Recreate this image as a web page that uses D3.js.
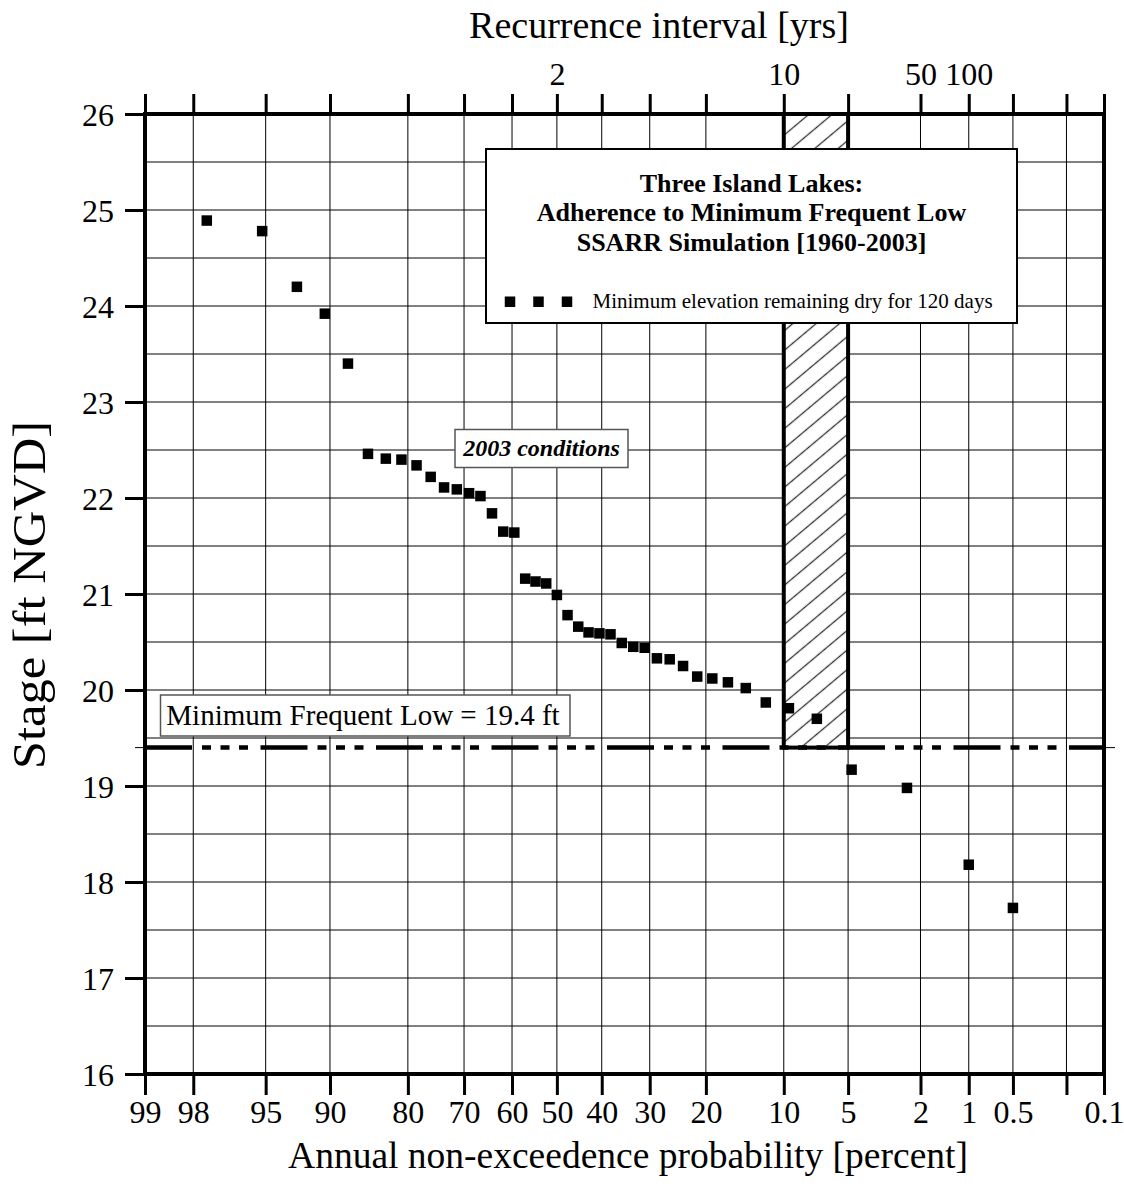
<!DOCTYPE html>
<html>
<head>
<meta charset="utf-8">
<script src="https://cdn.jsdelivr.net/npm/d3@7"></script>
<style>
  body { margin: 0; background: #fff; }
  svg { display: block; }
  text { font-family: "Liberation Serif", "Times New Roman", Times, serif; fill: #000; }
</style>
</head>
<body>
<svg id="chart" width="1124" height="1199"></svg>
<script>
// Annual non-exceedance probability (percent) of each ranked minimum stage
const probability = [97.6, 95.2, 92.9, 90.5, 88.1, 85.7, 83.3, 81.0, 78.6, 76.2,
  73.8, 71.4, 69.0, 66.7, 64.3, 61.9, 59.5, 57.1, 54.8, 52.4,
  50.0, 47.6, 45.2, 42.9, 40.5, 38.1, 35.7, 33.3, 31.0, 28.6,
  26.2, 23.8, 21.4, 19.0, 16.7, 14.3, 11.9, 9.5, 7.1, 4.8,
  2.4, 1.0, 0.5];

// Minimum elevation remaining dry for 120 days [ft NGVD]
const stage = [24.89, 24.78, 24.20, 23.92, 23.40, 22.46, 22.41, 22.40, 22.34, 22.22,
  22.11, 22.09, 22.05, 22.02, 21.84, 21.65, 21.64, 21.16, 21.13, 21.11,
  20.99, 20.78, 20.66, 20.60, 20.59, 20.58, 20.49, 20.45, 20.44, 20.33,
  20.32, 20.25, 20.14, 20.12, 20.08, 20.02, 19.87, 19.81, 19.70, 19.17,
  18.98, 18.18, 17.73];

const probTicks = [99, 98, 95, 90, 80, 70, 60, 50, 40, 30, 20, 10, 5, 2, 1, 0.5, 0.2, 0.1];
const probTickLabels = ["99", "98", "95", "90", "80", "70", "60", "50", "40", "30", "20", "10", "5", "2", "1", "0.5", "", "0.1"];
const recurrenceYears = [2, 10, 50, 100];
const recurrenceLabels = ["2", "10", "50", "100"];
const stageTicks = [16, 17, 18, 19, 20, 21, 22, 23, 24, 25, 26];
const stageGrid = [16.5, 17, 17.5, 18, 18.5, 19, 19.5, 20, 20.5, 21, 21.5, 22, 22.5, 23, 23.5, 24, 24.5, 25, 25.5];
const minFrequentLow = 19.4;
const targetBand = [10, 5];      // percent, shaded recurrence window
const stageDomain = [16, 26];
const probDomain = [99, 0.1];

// Inverse standard normal CDF (Acklam's rational approximation)
function probit(p) {
  const a = [-3.969683028665376e+01, 2.209460984245205e+02, -2.759285104469687e+02,
             1.383577518672690e+02, -3.066479806614716e+01, 2.506628277459239e+00];
  const b = [-5.447609879822406e+01, 1.615858368580409e+02, -1.556989798598866e+02,
             6.680131188771972e+01, -1.328068155288572e+01];
  const c = [-7.784894002430293e-03, -3.223964580411365e-01, -2.400758277161838e+00,
             -2.549732539343734e+00, 4.374664141464968e+00, 2.938163982698783e+00];
  const d = [7.784695709041462e-03, 3.224671290700398e-01, 2.445134137142996e+00,
             3.754408661907416e+00];
  const pl = 0.02425, ph = 1 - pl;
  let q, r;
  if (p < pl) {
    q = Math.sqrt(-2 * Math.log(p));
    return (((((c[0]*q+c[1])*q+c[2])*q+c[3])*q+c[4])*q+c[5]) / ((((d[0]*q+d[1])*q+d[2])*q+d[3])*q+1);
  }
  if (p > ph) {
    q = Math.sqrt(-2 * Math.log(1 - p));
    return -(((((c[0]*q+c[1])*q+c[2])*q+c[3])*q+c[4])*q+c[5]) / ((((d[0]*q+d[1])*q+d[2])*q+d[3])*q+1);
  }
  q = p - 0.5; r = q * q;
  return (((((a[0]*r+a[1])*r+a[2])*r+a[3])*r+a[4])*r+a[5])*q / (((((b[0]*r+b[1])*r+b[2])*r+b[3])*r+b[4])*r+1);
}
const z = pct => probit(pct / 100);

const L = 145, R = 1104, T = 114, B = 1074;
const svg = d3.select("#chart");

// Normal-probability x scale (in z units) and linear stage scale
const zScale = d3.scaleLinear().domain([z(probDomain[0]), z(probDomain[1])]).range([L, R]);
const px = pct => zScale(z(pct));
const y = d3.scaleLinear().domain(stageDomain).range([B, T]);

// Grid
const grid = svg.append("g").attr("stroke", "#000").attr("stroke-width", 1);
grid.selectAll("line.v").data(probTicks.slice(1, -1)).join("line")
  .attr("class", "v")
  .attr("x1", d => px(d)).attr("x2", d => px(d))
  .attr("y1", T).attr("y2", B);
grid.selectAll("line.h").data(stageGrid).join("line")
  .attr("class", "h")
  .attr("x1", L).attr("x2", R)
  .attr("y1", d => y(d)).attr("y2", d => y(d));

// Hatch pattern for the 5-10 percent window
const defs = svg.append("defs");
const pat = defs.append("pattern")
  .attr("id", "hatch").attr("patternUnits", "userSpaceOnUse")
  .attr("width", 12).attr("height", 15)
  .attr("patternTransform", "rotate(-40)");
pat.append("rect").attr("width", 12).attr("height", 15).attr("fill", "#fff");
pat.append("line").attr("x1", 0).attr("x2", 12).attr("y1", 7.5).attr("y2", 7.5)
  .attr("stroke", "#333").attr("stroke-width", 1.3);

const bandX0 = px(targetBand[0]), bandX1 = px(targetBand[1]);
svg.append("rect")
  .attr("x", bandX0).attr("y", y(stageDomain[1]))
  .attr("width", bandX1 - bandX0).attr("height", y(minFrequentLow) - y(stageDomain[1]))
  .attr("fill", "url(#hatch)");

// Minimum frequent low line: short stubs outside the frame plus the dashed line inside
const yLow = y(minFrequentLow);
svg.append("g").attr("stroke", "#000").attr("stroke-width", 1)
  .selectAll("line").data([[L - 10, L], [R, R + 11]]).join("line")
  .attr("x1", d => d[0]).attr("x2", d => d[1])
  .attr("y1", yLow).attr("y2", yLow);
svg.append("line")
  .attr("x1", L).attr("x2", R)
  .attr("y1", yLow).attr("y2", yLow)
  .attr("stroke", "#000").attr("stroke-width", 4.5)
  .attr("stroke-dasharray", "47,10,9,9.5,9,9.5,9,12.5");

svg.append("rect")
  .attr("x", bandX0).attr("y", y(stageDomain[1]))
  .attr("width", bandX1 - bandX0).attr("height", yLow - y(stageDomain[1]))
  .attr("fill", "none").attr("stroke", "#000").attr("stroke-width", 4);

// Data points
const S = 10.5;
svg.append("g").selectAll("rect").data(probability.map((p, i) => [p, stage[i]])).join("rect")
  .attr("x", d => px(d[0]) - S / 2).attr("y", d => y(d[1]) - S / 2)
  .attr("width", S).attr("height", S).attr("fill", "#000");

// Axes
const zTickVals = probTicks.map(z);
const styleAxis = g => {
  g.select(".domain").remove();
  g.selectAll(".tick line").attr("stroke", "#000").attr("stroke-width", 3);
  g.selectAll(".tick text").attr("font-family", null).style("font-size", "32px");
};

svg.append("g").attr("transform", `translate(0,${B})`)
  .call(d3.axisBottom(zScale).tickValues(zTickVals).tickFormat((d, i) => probTickLabels[i]).tickSize(21).tickSizeOuter(0))
  .call(styleAxis)
  .call(g => g.selectAll(".tick text").attr("y", 49).attr("dy", 0));

svg.append("g").attr("transform", `translate(0,${T})`)
  .call(d3.axisTop(zScale).tickValues(zTickVals).tickFormat("").tickSize(20).tickSizeOuter(0))
  .call(styleAxis);

svg.append("g").attr("transform", `translate(0,${T})`)
  .call(d3.axisTop(zScale).tickValues(recurrenceYears.map(t => z(100 / t))).tickFormat((d, i) => recurrenceLabels[i]).tickSize(0).tickSizeOuter(0))
  .call(styleAxis)
  .call(g => g.selectAll(".tick text").attr("y", -29).attr("dy", 0));

svg.append("g").attr("transform", `translate(${L},0)`)
  .call(d3.axisLeft(y).tickValues(stageTicks).tickFormat(d3.format("d")).tickSize(20).tickSizeOuter(0))
  .call(styleAxis)
  .call(g => g.selectAll(".tick text").attr("x", -31).attr("dy", "0.35em"));

// Frame
svg.append("rect").attr("x", L).attr("y", T).attr("width", R - L).attr("height", B - T)
  .attr("fill", "none").attr("stroke", "#000").attr("stroke-width", 4);

// Axis titles
svg.append("text").attr("x", 659).attr("y", 38).attr("text-anchor", "middle")
  .style("font-size", "38px").text("Recurrence interval [yrs]");
svg.append("text").attr("x", 628).attr("y", 1168).attr("text-anchor", "middle")
  .style("font-size", "37.5px").text("Annual non-exceedence probability [percent]");
svg.append("text").attr("transform", "translate(45,595) scale(1,1.1) rotate(-90)").attr("text-anchor", "middle")
  .style("font-size", "46px").text("Stage [ft NGVD]");

// Annotation: 2003 conditions
svg.append("rect").attr("x", 455).attr("y", 429.5).attr("width", 173).attr("height", 38)
  .attr("fill", "#fff").attr("stroke", "#555").attr("stroke-width", 1.5);
svg.append("text").attr("x", 541.5).attr("y", 455.5).attr("text-anchor", "middle")
  .style("font-size", "24px").style("font-weight", "bold").style("font-style", "italic")
  .text("2003 conditions");

// Annotation: minimum frequent low
svg.append("rect").attr("x", 160.5).attr("y", 695).attr("width", 409.5).attr("height", 41)
  .attr("fill", "#fff").attr("stroke", "#555").attr("stroke-width", 1.5);
svg.append("text").attr("x", 363).attr("y", 725).attr("text-anchor", "middle")
  .style("font-size", "29px").text(`Minimum Frequent Low = ${minFrequentLow} ft`);

// Title / legend box
svg.append("rect").attr("x", 486).attr("y", 149).attr("width", 531).attr("height", 174)
  .attr("fill", "#fff").attr("stroke", "#000").attr("stroke-width", 2);
const titleLines = ["Three Island Lakes:", "Adherence to Minimum Frequent Low", "SSARR Simulation [1960-2003]"];
svg.append("g").selectAll("text").data(titleLines).join("text")
  .attr("x", 751.5).attr("y", (d, i) => 192 + i * 29.3).attr("text-anchor", "middle")
  .style("font-size", "26px").style("font-weight", "bold").text(d => d);
svg.append("g").selectAll("rect").data([510, 538.5, 567]).join("rect")
  .attr("x", d => d - 5.25).attr("y", 296.5).attr("width", 10.5).attr("height", 10.5).attr("fill", "#000");
svg.append("text").attr("x", 592.5).attr("y", 307.5)
  .style("font-size", "21px").text("Minimum elevation remaining dry for 120 days");
</script>
</body>
</html>
